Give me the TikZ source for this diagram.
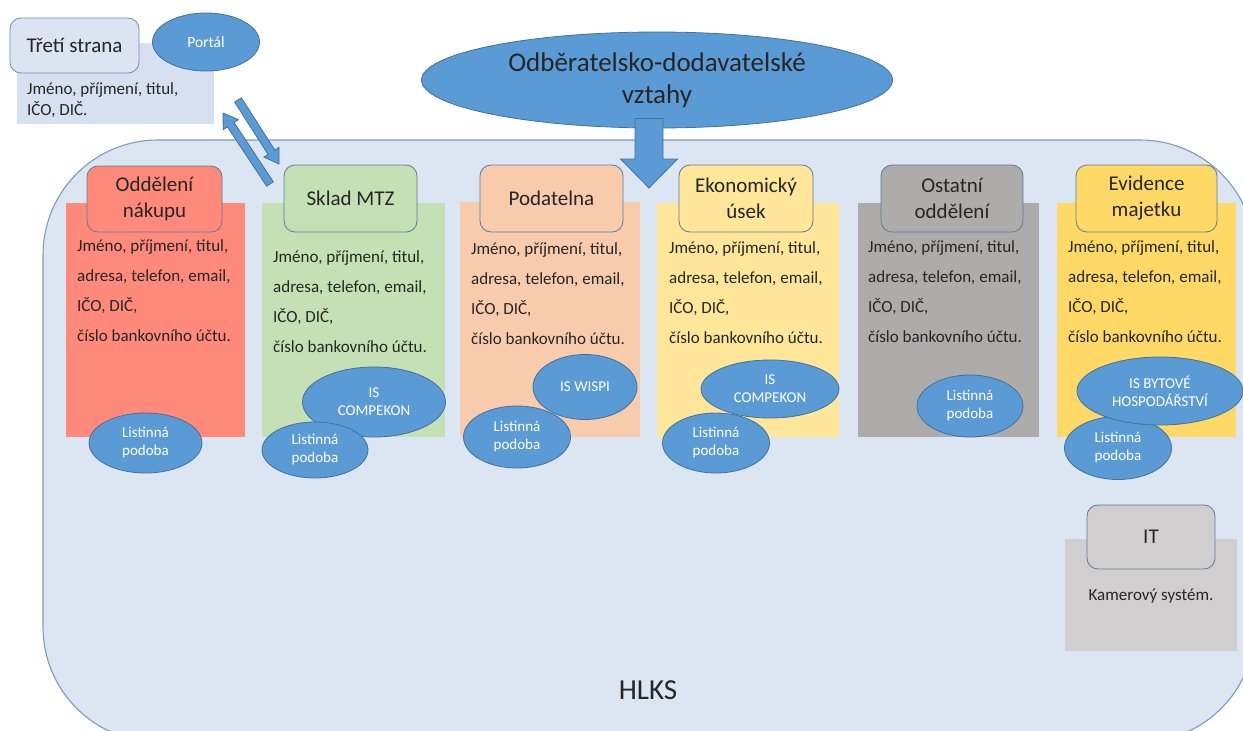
\documentclass[tikz,border=0pt]{standalone}
\usepackage{fontspec}
\setmainfont{Carlito}
\usetikzlibrary{shapes.geometric,calc}
\definecolor{hlksfill}{HTML}{DCE6F2}
\definecolor{hlksborder}{HTML}{7F9BBE}
\definecolor{tpfill}{HTML}{DCE4F2}
\definecolor{tpbody}{HTML}{D6E0F0}
\definecolor{tpborder}{HTML}{6F8EB5}
\definecolor{cred}{HTML}{FF8A7B}
\definecolor{cgreen}{HTML}{C5E0B4}
\definecolor{cpeach}{HTML}{F8CBAD}
\definecolor{cyellow}{HTML}{FFE699}
\definecolor{cgray}{HTML}{AEABAB}
\definecolor{cgold}{HTML}{FFD966}
\definecolor{citgray}{HTML}{D0CECE}
\definecolor{hdrborder}{HTML}{61799A}
\definecolor{ellfill}{HTML}{5B9BD5}
\definecolor{ellborder}{HTML}{41719C}
\definecolor{textdark}{HTML}{262626}
\newcommand{\osobniudaje}{\rule{0pt}{14pt}Jméno, příjmení, titul,\\adresa, telefon, email,\\IČO, DIČ,\\číslo bankovního účtu.}
\newcommand{\blockarrow}[6][]{%
  \coordinate (baC) at ($(#3)!#6!(#2)$);
  \filldraw[#1] ($(#2)!#4!90:(#3)$) -- ($(baC)!#4!-90:(#2)$) -- ($(baC)!#5!-90:(#2)$) -- (#3)
     -- ($(baC)!#5!90:(#2)$) -- ($(baC)!#4!90:(#2)$) -- ($(#2)!#4!-90:(#3)$) -- cycle;}
\begin{document}
\begin{tikzpicture}[x=1pt,y=-1pt,
  hdr/.style={rectangle, rounded corners=11pt, draw=hdrborder, line width=0.8pt, align=center,
    text=textdark, font=\fontsize{21}{26}\selectfont, inner sep=0pt},
  body/.style={anchor=north west, align=left, inner sep=0pt, text=textdark,
    font=\fontsize{17}{30}\selectfont},
  ell/.style={ellipse, draw=ellborder, fill=ellfill, line width=0.8pt, text=white, inner sep=0pt,
    align=center, font=\fontsize{15}{18}\selectfont},
  barrow/.style={fill=ellfill, draw=ellborder, line width=0.8pt, line join=miter}
]
\useasboundingbox (0,0) rectangle (1243,731);
\fill[white] (0,0) rectangle (1243,731);
% HLKS container
\begin{scope}
  \clip (0,0) rectangle (1243,731);
  \draw[fill=hlksfill, draw=hlksborder, line width=1.1pt, rounded corners=115pt] (43,140) rectangle (1255,742);
\end{scope}
\node[text=textdark, font=\fontsize{29}{34}\selectfont, inner sep=0pt] (hlks) at (648,690) {HLKS};

% Third party
\fill[tpbody] (17,43) rectangle (214,124);
\node[hdr, fill=tpfill, draw=tpborder, minimum width=129pt, minimum height=55pt] (tp) at (74.5,45.5) {Třetí strana};
\node[body, font=\fontsize{17}{21}\selectfont] (tpb) at (27,80) {\rule{0pt}{14pt}Jméno, příjmení, titul,\\IČO, DIČ.};
\node[ell, minimum width=107pt, minimum height=58pt, font=\fontsize{15.5}{18}\selectfont] (portal) at (206,42) {Portál};

% Big ellipse
\node[ell, minimum width=471pt, minimum height=96pt, text=textdark, font=\fontsize{27}{32}\selectfont] (odb) at (657,80) {Odběratelsko-dodavatelské\\vztahy};

% Column backgrounds
\fill[cred] (66,203) rectangle (245,437);
\fill[cgreen] (262,203) rectangle (445,437);
\fill[cpeach] (460,202) rectangle (640,437);
\fill[cyellow] (657,203) rectangle (839,437);
\fill[cgray] (858,203) rectangle (1039,437);
\fill[cgold] (1057,203) rectangle (1236,437);
\fill[citgray] (1065,539) rectangle (1237,651);

% Headers
\node[hdr, fill=cred, minimum width=135pt, minimum height=66pt] (h1) at (154.5,199) {Oddělení\\nákupu};
\node[hdr, fill=cgreen, minimum width=133pt, minimum height=67pt] (h2) at (350.5,198.5) {Sklad MTZ};
\node[hdr, fill=cpeach, minimum width=143pt, minimum height=67pt] (h3) at (551.5,198.5) {Podatelna};
\node[hdr, fill=cyellow, minimum width=134pt, minimum height=67pt] (h4) at (746,198.5) {Ekonomický\\úsek};
\node[hdr, fill=cgray, minimum width=142pt, minimum height=67pt] (h5) at (952,198.5) {Ostatní\\oddělení};
\node[hdr, fill=cgold, minimum width=141pt, minimum height=67pt] (h6) at (1146.5,198.5) {Evidence\\majetku};
\node[hdr, fill=citgray, minimum width=128pt, minimum height=64pt] (hit) at (1151,537) {IT};

% Body texts
\node[body] (b1) at (77,237) {\osobniudaje};
\node[body] (b2) at (273,248) {\osobniudaje};
\node[body] (b3) at (471,240) {\osobniudaje};
\node[body] (b4) at (669,239) {\osobniudaje};
\node[body] (b5) at (868,238) {\osobniudaje};
\node[body] (b6) at (1068,238) {\osobniudaje};
\node[text=textdark, font=\fontsize{17}{20}\selectfont, anchor=base, inner sep=0pt] (bit) at (1151,600) {Kamerový systém.};

% Ellipses
\node[ell, minimum width=113pt, minimum height=60pt] (l1) at (145.5,443) {Listinná\\podoba};
\node[ell, minimum width=143pt, minimum height=70pt] (is2) at (374,402) {IS\\COMPEKON};
\node[ell, minimum width=106pt, minimum height=56pt] (l2) at (315,450) {Listinná\\podoba};
\node[ell, minimum width=104pt, minimum height=65pt] (is3) at (585,387) {IS WISPI};
\node[ell, minimum width=107pt, minimum height=62pt] (l3) at (517,437) {Listinná\\podoba};
\node[ell, minimum width=138pt, minimum height=58pt] (is4) at (770,389) {IS\\COMPEKON};
\node[ell, minimum width=107pt, minimum height=60pt] (l4) at (716,443) {Listinná\\podoba};
\node[ell, minimum width=106pt, minimum height=62pt] (l5) at (970,406) {Listinná\\podoba};
\node[ell, minimum width=107pt, minimum height=63pt] (l6) at (1118,448) {Listinná\\podoba};
\node[ell, minimum width=166pt, minimum height=68pt] (is6) at (1160,391) {IS BYTOVÉ\\HOSPODÁŘSTVÍ};

% Arrows
\coordinate (odbs) at ($(odb.south)+(-8,-10)$);
\coordinate (odbt) at (649,188);
\blockarrow[barrow]{odbs}{odbt}{14pt}{28.5pt}{29pt}
\coordinate (a1s) at (270,184);
\coordinate (a1t) at (223,113);
\coordinate (a2s) at (238,100);
\coordinate (a2t) at (279,164);
\blockarrow[barrow]{a1s}{a1t}{4pt}{9pt}{14pt}
\blockarrow[barrow]{a2s}{a2t}{4pt}{9pt}{14pt}
\end{tikzpicture}
\end{document}
